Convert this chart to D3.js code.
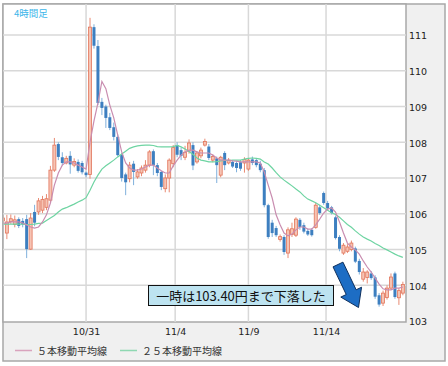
<!DOCTYPE html>
<html><head><meta charset="utf-8">
<script src="https://cdn.jsdelivr.net/npm/d3@7/dist/d3.min.js"></script>
<style>body{margin:0;background:#fff;} svg{display:block;}</style>
</head><body><svg id="c" width="448" height="366"></svg>
<script>
// ---- data (4-hour candles) ----
const opens = [105.80,105.46,105.78,105.70,105.85,105.80,105.85,105.01,106.05,106.05,
106.10,106.18,106.38,107.22,107.95,107.58,107.42,107.62,107.36,107.45,
107.42,107.15,107.10,111.22,110.69,109.13,109.00,108.70,108.42,108.15,
107.65,107.10,106.98,107.40,107.03,107.14,107.22,107.36,107.75,107.36,
107.17,106.70,107.00,107.40,107.92,107.78,107.58,107.75,107.92,107.45,
107.62,107.92,107.88,107.50,107.55,107.08,107.70,107.42,107.45,107.42,
107.44,107.42,107.25,107.52,107.50,107.40,107.22,106.24,105.75,105.60,
105.28,105.35,104.90,105.42,105.40,105.83,105.68,105.52,105.55,105.62,
106.18,106.58,106.30,106.18,105.90,105.35,104.90,104.95,105.00,105.03,
104.68,104.17,104.22,104.33,104.22,103.72,103.50,103.66,103.92,104.33,
103.65,103.78];
const highs = [105.95,105.97,105.98,105.95,105.90,105.88,105.97,106.02,106.25,106.44,
106.50,106.55,107.34,108.12,108.00,107.72,107.62,107.75,107.55,107.52,
107.48,107.18,111.48,111.30,110.86,109.24,109.05,108.82,108.55,108.22,
107.70,107.15,107.45,107.48,107.25,107.35,107.50,107.78,107.80,107.42,
107.20,107.10,107.55,107.92,108.00,107.85,107.90,108.08,108.00,107.75,
107.85,108.10,107.95,107.66,107.60,107.62,107.75,107.56,107.50,107.48,
107.50,107.58,107.56,107.60,107.55,107.48,107.28,106.28,105.83,105.66,
105.42,105.40,105.62,105.75,105.90,105.88,105.75,105.58,105.60,106.30,
106.25,106.62,106.36,106.22,105.95,105.40,105.18,105.15,105.25,105.08,
104.74,104.48,104.42,104.40,104.28,103.78,103.85,104.00,104.33,104.38,
103.92,104.10];
const lows = [105.70,105.29,105.72,105.62,105.60,105.62,104.76,104.99,105.65,105.97,
106.02,106.10,106.30,107.17,107.50,107.35,107.38,107.12,107.30,107.15,
107.10,107.02,106.98,110.62,109.04,108.76,108.40,108.34,108.05,107.60,
106.90,106.52,106.88,106.80,106.98,107.05,107.15,107.30,107.08,107.05,
106.66,106.60,106.60,107.30,107.58,107.50,107.50,107.68,107.22,107.40,
107.55,107.88,107.50,107.44,106.86,107.02,107.22,107.38,107.28,107.16,
107.20,107.15,107.20,107.36,107.30,107.16,106.18,105.30,105.35,105.35,
105.22,104.85,104.76,105.35,105.35,105.55,105.45,105.38,105.36,105.58,
105.97,106.25,106.10,105.98,105.28,104.95,104.85,104.90,104.95,104.62,
104.30,104.10,104.05,104.15,103.62,103.40,103.42,103.60,103.88,103.62,
103.45,103.72];
const closes = [105.88,105.77,105.86,105.83,105.66,105.70,105.01,105.88,105.75,106.36,
106.40,106.42,107.22,107.92,107.59,107.42,107.55,107.38,107.46,107.20,
107.16,107.08,111.22,110.70,109.10,108.96,108.68,108.40,108.15,107.64,
107.00,106.88,107.36,107.17,107.17,107.28,107.36,107.73,107.36,107.14,
106.75,107.00,107.50,107.85,107.65,107.62,107.72,107.98,107.35,107.70,
107.78,108.02,107.56,107.60,107.36,107.58,107.36,107.50,107.32,107.28,
107.26,107.52,107.50,107.42,107.36,107.22,106.24,105.35,105.46,105.40,
105.36,104.93,105.55,105.58,105.85,105.63,105.50,105.42,105.40,106.24,
106.02,106.30,106.15,106.02,105.32,105.02,105.12,105.07,105.18,104.66,
104.37,104.37,104.37,104.20,103.68,103.46,103.78,103.92,104.23,103.67,
103.85,104.02];
const ma5 = [105.74,105.74,105.77,105.77,105.77,105.74,105.69,105.63,105.60,105.63,
105.77,105.97,106.30,106.80,107.14,107.36,107.45,107.45,107.42,107.36,
107.31,107.25,108.00,108.60,109.10,109.70,109.50,109.04,108.68,108.20,
107.73,107.42,107.28,107.22,107.22,107.25,107.31,107.36,107.36,107.28,
107.20,107.14,107.14,107.34,107.50,107.64,107.73,107.78,107.78,107.73,
107.70,107.70,107.70,107.64,107.56,107.50,107.50,107.50,107.48,107.47,
107.45,107.45,107.45,107.45,107.45,107.42,107.17,106.80,106.44,105.97,
105.69,105.46,105.38,105.43,105.55,105.63,105.63,105.57,105.57,105.69,
105.85,106.02,106.13,106.16,106.05,105.77,105.46,105.18,105.07,104.99,
104.87,104.68,104.51,104.37,104.20,104.03,103.90,103.87,103.87,103.92,
103.92,103.95];
const ma25 = [105.71,105.71,105.71,105.71,105.71,105.71,105.70,105.70,105.71,105.73,
105.74,105.81,105.88,105.95,106.05,106.13,106.17,106.22,106.27,106.33,
106.38,106.45,106.66,106.89,107.08,107.25,107.34,107.42,107.50,107.59,
107.67,107.75,107.83,107.87,107.90,107.91,107.92,107.92,107.91,107.88,
107.87,107.87,107.87,107.88,107.91,107.87,107.81,107.74,107.66,107.56,
107.50,107.48,107.45,107.45,107.46,107.48,107.49,107.49,107.50,107.50,
107.50,107.53,107.55,107.56,107.55,107.53,107.45,107.39,107.28,107.15,
107.03,106.94,106.86,106.78,106.69,106.61,106.50,106.41,106.36,106.31,
106.24,106.17,106.10,106.03,105.98,105.90,105.80,105.70,105.62,105.52,
105.43,105.35,105.29,105.24,105.17,105.11,105.04,104.99,104.93,104.87,
104.82,104.78];
const yTicks = [103,104,105,106,107,108,109,110,111];
const xTickLabels = ["10/31","11/4","11/9","11/14"];
const xTickIndex = [21,43.5,62,81.6];
const titleText = "4時間足";
const noteText = "一時は103.40円まで下落した";
const legendLabels = ["５本移動平均線","２５本移動平均線"];

// ---- layout ----
const svg = d3.select("#c");
const P = {l:3, t:4, r:406, b:322};
const N = closes.length;
const x = d3.scaleLinear().domain([0, N-1]).range([2.9, 2.9 + (N-1)*3.96]);
const y = d3.scaleLinear().domain([103, 111]).range([321, 35]);
const jp = "'Noto Sans CJK JP', sans-serif";
const num = "'DejaVu Sans', sans-serif";

svg.append("rect").attr("x",3).attr("y",4).attr("width",442).attr("height",357)
  .attr("fill","#f0f0f0").attr("stroke","#a8a8a8").attr("stroke-width",1.5);
svg.append("rect").attr("x",P.l).attr("y",P.t).attr("width",P.r-P.l).attr("height",P.b-P.t)
  .attr("fill","#fff").attr("stroke","#a8a8a8").attr("stroke-width",1.5);

svg.append("defs").append("clipPath").attr("id","pc").append("rect")
  .attr("x",P.l+0.75).attr("y",P.t+0.75).attr("width",P.r-P.l-1.5).attr("height",P.b-P.t-1.5);

// grid
const g = svg.append("g");
g.selectAll("line.h").data(yTicks.filter(d=>d>103)).join("line")
  .attr("x1",P.l).attr("x2",P.r).attr("y1",d=>y(d)).attr("y2",d=>y(d))
  .attr("stroke","#d8d8d8").attr("stroke-width",1.5);
g.selectAll("line.v").data(xTickIndex).join("line")
  .attr("x1",d=>x(d)).attr("x2",d=>x(d)).attr("y1",P.t).attr("y2",P.b)
  .attr("stroke","#d8d8d8").attr("stroke-width",1.5);

// candles
const cg = svg.append("g").attr("clip-path","url(#pc)");
const idx = d3.range(N);
const up = i => closes[i] >= opens[i];
cg.selectAll("line.w").data(idx).join("line")
  .attr("x1",i=>x(i)).attr("x2",i=>x(i))
  .attr("y1",i=>y(highs[i])).attr("y2",i=>y(lows[i]))
  .attr("stroke",i=>up(i)?"#e98a72":"#7fb0dc").attr("stroke-width",1);
cg.selectAll("rect.b").data(idx).join("rect")
  .attr("x",i=>x(i)-1.5).attr("width",3)
  .attr("y",i=>y(Math.max(opens[i],closes[i])))
  .attr("height",i=>Math.max(1, Math.abs(y(opens[i])-y(closes[i]))))
  .attr("fill",i=>up(i)?"#f6c4b4":"#3d7fc0")
  .attr("stroke",i=>up(i)?"#e2755b":"none").attr("stroke-width",0.8);

// moving averages
const line = arr => d3.line().x((d,i)=>x(i)).y(d=>y(d))(arr);
cg.append("path").attr("d",line(ma25)).attr("fill","none").attr("stroke","#6ed4a2").attr("stroke-width",1.2);
cg.append("path").attr("d",line(ma5)).attr("fill","none").attr("stroke","#c98db0").attr("stroke-width",1.2);

// axes
const ya = svg.append("g").attr("transform",`translate(${P.r},0)`)
  .call(d3.axisRight(y).tickValues(yTicks).tickSize(0).tickPadding(3).tickFormat(d3.format("d")));
ya.select(".domain").remove();
ya.selectAll("text").attr("font-family",num).attr("font-size",9.5).attr("fill","#222").attr("dy","0.4em");

const xa = svg.append("g").attr("transform",`translate(0,${P.b})`)
  .call(d3.axisBottom(x).tickValues(xTickIndex).tickSize(0).tickPadding(6).tickFormat((d,i)=>xTickLabels[i]));
xa.select(".domain").remove();
xa.selectAll("text").attr("font-family",num).attr("font-size",9.5).attr("fill","#222");

// title
svg.append("text").attr("x",14).attr("y",16.5).attr("font-family",jp).attr("font-size",9.5)
  .attr("fill","#3cb6ea").text(titleText);

// annotation
svg.append("rect").attr("x",148.5).attr("y",285.5).attr("width",185).attr("height",20)
  .attr("fill","#bde3f0").attr("stroke","#111").attr("stroke-width",1);
svg.append("text").attr("x",241).attr("y",300.5).attr("text-anchor","middle")
  .attr("font-family",jp).attr("font-size",13).attr("fill","#111").text(noteText);

const T=[338,264.5], Tip=[358.5,307.5];
const L = Math.hypot(Tip[0]-T[0],Tip[1]-T[1]);
const d = [(Tip[0]-T[0])/L,(Tip[1]-T[1])/L], n=[d[1],-d[0]];
const B = [Tip[0]-17*d[0], Tip[1]-17*d[1]];
const pt = (p,k)=>[p[0]+k*n[0], p[1]+k*n[1]];
const arrow = [pt(T,5.5), pt(B,5.5), pt(B,11.5), Tip, pt(B,-11.5), pt(B,-5.5), pt(T,-5.5)];
svg.append("polygon").attr("points",arrow.map(p=>p.join(",")).join(" "))
  .attr("fill","#1d6dc4").attr("stroke","#0e2f5c").attr("stroke-width",1);

// legend
const lg = svg.append("g");
const legendColors = ["#d9a3bd","#8fd8b2"];
const legendX = [15,120];
legendLabels.forEach((t,i)=>{
  lg.append("line").attr("x1",legendX[i]).attr("x2",legendX[i]+17).attr("y1",350.5).attr("y2",350.5)
    .attr("stroke",legendColors[i]).attr("stroke-width",1.5);
  lg.append("text").attr("x",legendX[i]+22).attr("y",354.5).attr("font-family",jp).attr("font-size",10)
    .attr("fill","#333").text(t);
});
</script></body></html>
